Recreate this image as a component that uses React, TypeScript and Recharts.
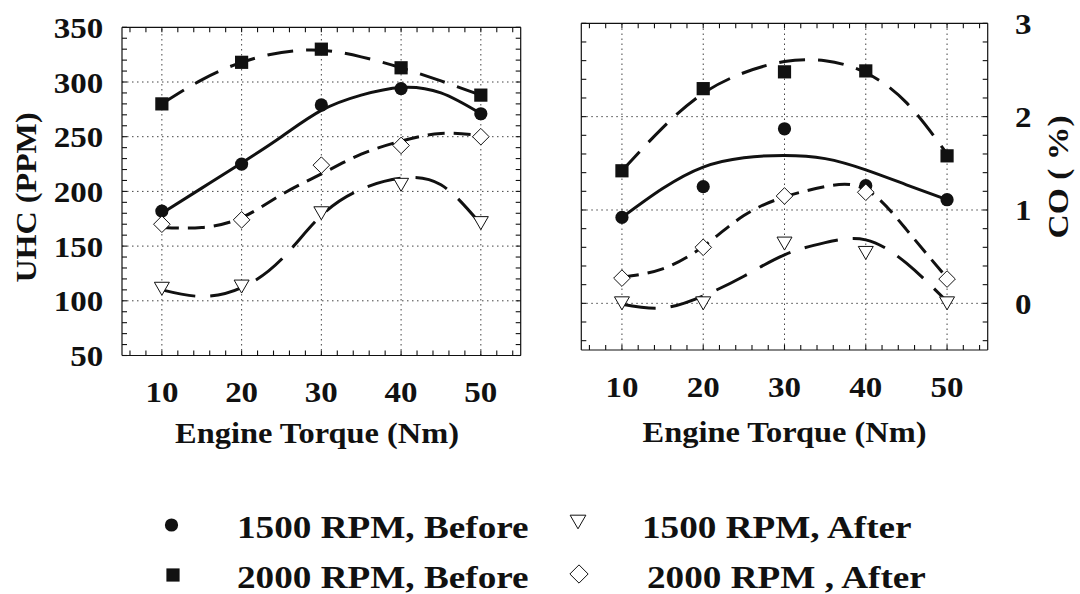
import { LineChart, Line, XAxis, YAxis, ReferenceLine } from 'recharts';

const SERIF = '"Liberation Serif", "Times New Roman", Times, serif';
const INK = '#111';

// torque steps where the engine was measured
const torque = [10, 20, 30, 40, 50];
// torque steps where the fitted trend curves are sampled
const trendTorque = [10, 15, 20, 25, 30, 35, 40, 45, 50];

// UHC (PPM), measured
const uhc1500Before = [182, 225, 279, 294, 271];
const uhc2000Before = [280, 318, 330, 313, 288];
const uhc1500After = [111, 113, 180, 206, 171];
const uhc2000After = [170, 174, 224, 242, 250];

// UHC (PPM), fitted trends
const uhcTrend1500Before = [180, 203, 226, 250, 274, 288, 295, 290, 271];
const uhcTrend2000Before = [280, 302, 318, 327, 329, 323, 313, 301, 288];
const uhcTrend1500After = [110, 104, 112, 138, 178, 202, 212, 206, 170];
const uhcTrend2000After = [167, 167, 176, 197, 216, 234, 246, 253, 251];

// CO (%), measured
const co1500Before = [0.92, 1.25, 1.87, 1.26, 1.11];
const co2000Before = [1.42, 2.3, 2.48, 2.49, 1.58];
const co1500After = [0.0, 0.0, 0.64, 0.54, 0.0];
const co2000After = [0.27, 0.6, 1.15, 1.19, 0.26];

// CO (%), fitted trends
const coTrend1500Before = [0.92, 1.23, 1.46, 1.56, 1.585, 1.55, 1.43, 1.27, 1.11];
const coTrend2000Before = [1.42, 1.88, 2.25, 2.47, 2.59, 2.6, 2.47, 2.15, 1.6];
const coTrend1500After = [-0.01, -0.05, 0.08, 0.29, 0.52, 0.65, 0.68, 0.43, 0.02];
const coTrend2000After = [0.28, 0.37, 0.61, 0.94, 1.14, 1.25, 1.22, 0.79, 0.27];

// axis ticks
const torqueTicks = [6, 8, 10, 12, 14, 16, 18, 20, 22, 24, 26, 28, 30, 32, 34, 36, 38, 40, 42, 44, 46, 48, 50, 52, 54];
const torqueLabels = [10, 20, 30, 40, 50];
const uhcTicks = [50, 60, 70, 80, 90, 100, 110, 120, 130, 140, 150, 160, 170, 180, 190, 200, 210, 220, 230, 240, 250, 260, 270, 280, 290, 300, 310, 320, 330, 340, 350];
const uhcLabels = [50, 100, 150, 200, 250, 300, 350];
const uhcGrid = [100, 150, 200, 250, 300];
const coTicks = [-0.4, -0.2, 0, 0.2, 0.4, 0.6, 0.8, 1, 1.2, 1.4, 1.6, 1.8, 2, 2.2, 2.4, 2.6, 2.8, 3];
const coLabels = [0, 1, 2, 3];
const coGrid = [0, 1, 2];

const legendNames = ['1500 RPM, Before', '2000 RPM, Before', '1500 RPM, After', '2000 RPM , After'];

type Kind = 'circle' | 'square' | 'triangle' | 'diamond';
type Side = 'top' | 'bottom' | 'left' | 'right';

const pts = (xs: number[], ys: number[]) => xs.map((x, i) => ({ x, y: ys[i] }));

function Marker({ kind, cx, cy, s = 1 }: { kind: Kind; cx: number; cy: number; s?: number }) {
  if (kind === 'circle') return <circle cx={cx} cy={cy} r={6.6 * s} fill={INK} />;
  if (kind === 'square') {
    const h = 6.6 * s;
    return <rect x={cx - h} y={cy - h} width={2 * h} height={2 * h} fill={INK} />;
  }
  if (kind === 'triangle') {
    const w = 7.5 * s;
    const h = 6.5 * s;
    return (
      <polygon
        points={`${cx - w},${cy - h} ${cx + w},${cy - h} ${cx},${cy + h}`}
        fill="#fff"
        stroke={INK}
        strokeWidth={1}
      />
    );
  }
  const d = 8.3 * s;
  return (
    <polygon
      points={`${cx},${cy - d} ${cx + d},${cy} ${cx},${cy + d} ${cx - d},${cy}`}
      fill="#fff"
      stroke={INK}
      strokeWidth={1}
    />
  );
}

const inward: Record<Side, [number, number]> = {
  top: [0, 1],
  bottom: [0, -1],
  left: [1, 0],
  right: [-1, 0],
};

// inward tick marks on every side, numbers only on the labelled values
function makeTick(side: Side, labels?: number[], dx = 0, dy = 0, anchor = 'middle') {
  return (props: any) => {
    const { x, y, payload } = props;
    const [ux, uy] = inward[side];
    const v = payload.value as number;
    const show = labels && labels.some((l) => Math.abs(l - v) < 1e-6);
    return (
      <g>
        <line x1={x} y1={y} x2={x + ux * 5} y2={y + uy * 5} stroke={INK} strokeWidth={1.1} />
        {show && (
          <text
            transform={`translate(${x + dx},${y + dy}) scale(1.1,1)`}
            textAnchor={anchor}
            fontFamily={SERIF}
            fontWeight="bold"
            fontSize={30}
            fill={INK}
          >
            {v}
          </text>
        )}
      </g>
    );
  };
}

type Series = { measured: number[]; trend: number[]; kind: Kind; dash?: string };

type PanelProps = {
  left: number;
  margin: { top: number; right: number; bottom: number; left: number };
  leftWidth: number;
  bottomHeight: number;
  yDomain: [number, number];
  yTicks: number[];
  yLabels: number[];
  yGrid: number[];
  labelsOnRight: boolean;
  yLabelDx: number;
  xLabelDy: number;
  series: Series[];
};

function Panel(p: PanelProps) {
  const axisLine = { stroke: INK, strokeWidth: 1.2 };
  return (
    <div style={{ position: 'absolute', left: p.left, top: 0 }}>
      <LineChart width={540} height={470} margin={p.margin}>
        <XAxis
          xAxisId="b"
          dataKey="x"
          type="number"
          domain={[5, 55]}
          allowDataOverflow
          ticks={torqueTicks}
          interval={0}
          height={p.bottomHeight}
          tickSize={0}
          tickMargin={0}
          tickLine={false}
          axisLine={axisLine}
          tick={makeTick('bottom', torqueLabels, 0, p.xLabelDy, 'middle')}
        />
        <XAxis
          xAxisId="t"
          orientation="top"
          dataKey="x"
          type="number"
          domain={[5, 55]}
          allowDataOverflow
          ticks={torqueTicks}
          interval={0}
          height={1}
          tickSize={0}
          tickMargin={0}
          tickLine={false}
          axisLine={axisLine}
          tick={makeTick('top')}
        />
        <YAxis
          yAxisId="l"
          type="number"
          domain={p.yDomain}
          allowDataOverflow
          ticks={p.yTicks}
          interval={0}
          width={p.leftWidth}
          tickSize={0}
          tickMargin={0}
          tickLine={false}
          axisLine={axisLine}
          tick={makeTick('left', p.labelsOnRight ? undefined : p.yLabels, p.yLabelDx, 10.5, 'end')}
        />
        <YAxis
          yAxisId="r"
          orientation="right"
          type="number"
          domain={p.yDomain}
          allowDataOverflow
          ticks={p.yTicks}
          interval={0}
          width={1}
          tickSize={0}
          tickMargin={0}
          tickLine={false}
          axisLine={axisLine}
          tick={makeTick('right', p.labelsOnRight ? p.yLabels : undefined, p.yLabelDx, 10.5, 'start')}
        />
        {torqueLabels.map((v) => (
          <ReferenceLine key={`gx${v}`} xAxisId="b" yAxisId="l" x={v} stroke="#444" strokeWidth={1} strokeDasharray="1.5 3.5" />
        ))}
        {p.yGrid.map((v) => (
          <ReferenceLine key={`gy${v}`} xAxisId="b" yAxisId="l" y={v} stroke="#444" strokeWidth={1} strokeDasharray="1.5 3.5" />
        ))}
        {p.series.map((s, i) => (
          <Line
            key={`t${i}`}
            xAxisId="b"
            yAxisId="l"
            data={pts(trendTorque, s.trend)}
            dataKey="y"
            type="natural"
            stroke={INK}
            strokeWidth={3}
            strokeDasharray={s.dash}
            dot={false}
            activeDot={false}
            isAnimationActive={false}
          />
        ))}
        {p.series.map((s, i) => (
          <Line
            key={`m${i}`}
            xAxisId="b"
            yAxisId="l"
            data={pts(torque, s.measured)}
            dataKey="y"
            stroke="none"
            dot={(d: any) => <Marker key={`d${i}-${d.index}`} kind={s.kind} cx={d.cx} cy={d.cy} />}
            activeDot={false}
            isAnimationActive={false}
          />
        ))}
      </LineChart>
    </div>
  );
}

const titleStyle = { fontFamily: SERIF, fontWeight: 'bold' as const, fontSize: 30, fill: INK };

export default function App() {
  const uhcSeries: Series[] = [
    { measured: uhc1500Before, trend: uhcTrend1500Before, kind: 'circle' },
    { measured: uhc2000Before, trend: uhcTrend2000Before, kind: 'square', dash: '26 13' },
    { measured: uhc1500After, trend: uhcTrend1500After, kind: 'triangle', dash: '34 15' },
    { measured: uhc2000After, trend: uhcTrend2000After, kind: 'diamond', dash: '17 9' },
  ];
  const coSeries: Series[] = [
    { measured: co1500Before, trend: coTrend1500Before, kind: 'circle' },
    { measured: co2000Before, trend: coTrend2000Before, kind: 'square', dash: '26 13' },
    { measured: co1500After, trend: coTrend1500After, kind: 'triangle', dash: '34 15' },
    { measured: co2000After, trend: coTrend2000After, kind: 'diamond', dash: '17 9' },
  ];
  const legendKinds: Kind[] = ['circle', 'square', 'triangle', 'diamond'];
  const legendPos = [
    { mx: 171.5, my: 525, tx: 237, ty: 538 },
    { mx: 173, my: 575, tx: 237, ty: 588 },
    { mx: 578, my: 522, tx: 642, ty: 538 },
    { mx: 579, my: 574, tx: 647, ty: 588 },
  ];

  return (
    <div style={{ position: 'absolute', left: 0, top: 0, width: 1080, height: 594, background: '#fff' }}>
      <Panel
        left={0}
        margin={{ top: 26.3, right: 18.3, bottom: 0, left: 0 }}
        leftWidth={122}
        bottomHeight={114.5}
        yDomain={[50, 350]}
        yTicks={uhcTicks}
        yLabels={uhcLabels}
        yGrid={uhcGrid}
        labelsOnRight={false}
        yLabelDx={-18.7}
        xLabelDy={46}
        series={uhcSeries}
      />
      <Panel
        left={540}
        margin={{ top: 22.3, right: 91.3, bottom: 0, left: 0 }}
        leftWidth={41.3}
        bottomHeight={120}
        yDomain={[-0.5, 3]}
        yTicks={coTicks}
        yLabels={coLabels}
        yGrid={coGrid}
        labelsOnRight={true}
        yLabelDx={27.3}
        xLabelDy={46.7}
        series={coSeries}
      />
      <svg width={1080} height={594} style={{ position: 'absolute', left: 0, top: 0, pointerEvents: 'none' }}>
        <text transform="translate(317,443) scale(1.08,1)" textAnchor="middle" {...titleStyle}>Engine Torque (Nm)</text>
        <text transform="translate(784.5,442) scale(1.08,1)" textAnchor="middle" {...titleStyle}>Engine Torque (Nm)</text>
        <text transform="translate(36,197.5) rotate(-90) scale(1.07,1)" textAnchor="middle" {...titleStyle}>UHC (PPM)</text>
        <text transform="translate(1068,177) rotate(-90) scale(1.12,1)" textAnchor="middle" {...titleStyle}>CO ( %)</text>
        {legendNames.map((name, i) => {
          const l = legendPos[i];
          return (
            <g key={name}>
              <Marker kind={legendKinds[i]} cx={l.mx} cy={l.my} s={legendKinds[i] === 'diamond' ? 1.1 : legendKinds[i] === 'triangle' ? 1.05 : 1} />
              <text transform={`translate(${l.tx},${l.ty}) scale(1.2,1)`} fontFamily={SERIF} fontWeight="bold" fontSize={31} fill={INK}>
                {name}
              </text>
            </g>
          );
        })}
      </svg>
    </div>
  );
}
